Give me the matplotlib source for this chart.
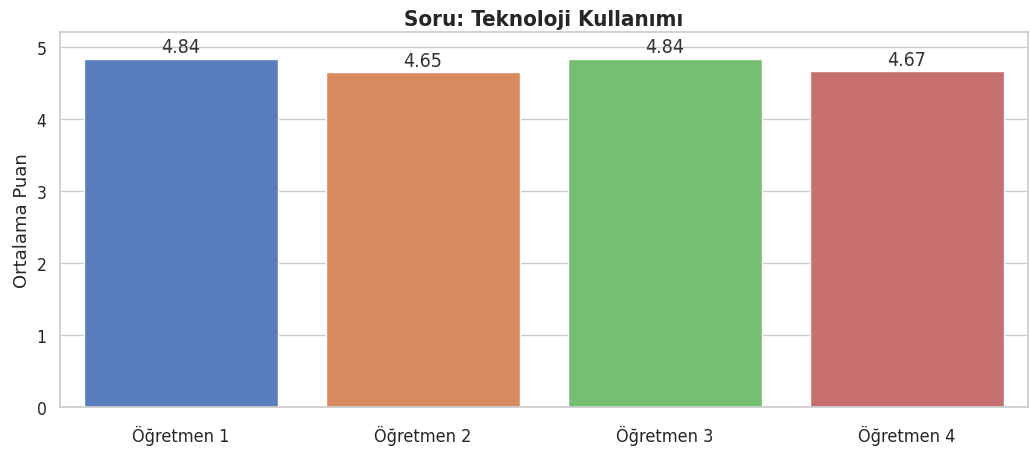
import matplotlib
matplotlib.use("Agg")
import matplotlib.pyplot as plt
import seaborn as sns

teachers = ["Öğretmen 1", "Öğretmen 2", "Öğretmen 3", "Öğretmen 4"]
scores = [4.84, 4.65, 4.84, 4.67]

sns.set_theme(style="whitegrid")
plt.rcParams["font.family"] = ["DejaVu Sans"]

fig, ax = plt.subplots(figsize=(10.3, 4.52), dpi=100)
sns.barplot(x=teachers, y=scores, hue=teachers, palette="muted", legend=False, ax=ax)

for i, v in enumerate(scores):
    ax.text(i, v + 0.03, f"{v:.2f}", ha="center", va="bottom", fontsize=14, color="#333333",
            fontstretch="condensed")

ax.set_ylim(0, 5.21)
ax.set_title("Soru: Teknoloji Kullanımı", fontsize=16, fontweight="bold",
             fontstretch="condensed", pad=5)
ax.set_ylabel("Ortalama Puan", fontsize=13)
ax.set_xlabel("")
ax.tick_params(axis="y", labelsize=12.5)
ax.tick_params(axis="x", labelsize=13, pad=7)
for lbl in ax.get_xticklabels() + ax.get_yticklabels():
    lbl.set_fontstretch("condensed")

plt.subplots_adjust(left=0.058, right=0.998, top=0.927, bottom=0.098)
plt.savefig("out.png", dpi=100)
plt.close()
